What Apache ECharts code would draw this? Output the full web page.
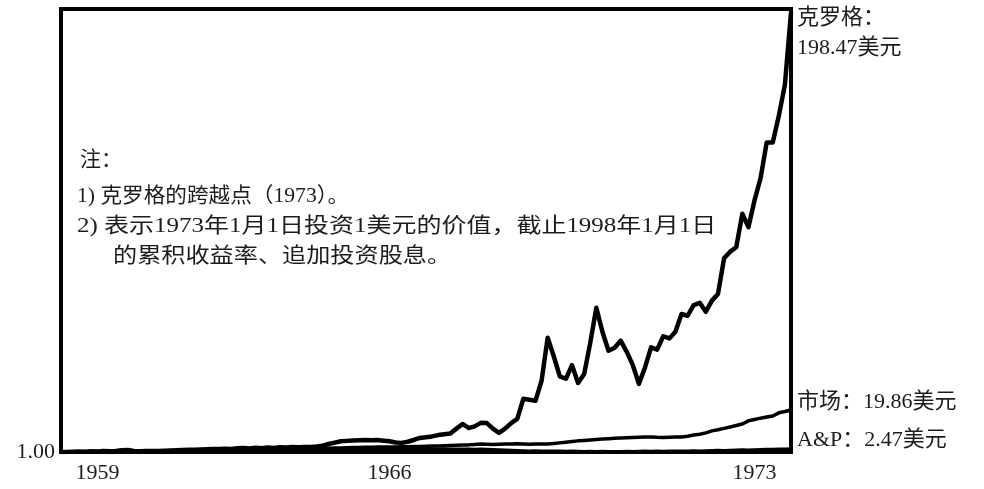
<!DOCTYPE html>
<html>
<head>
<meta charset="utf-8">
<script src="https://cdn.jsdelivr.net/npm/echarts@6/dist/echarts.min.js"></script>
<style>html,body{margin:0;padding:0;background:#fff}#c{width:984px;height:489px}</style>
</head>
<body>
<div id="c"></div>
<script>
// ---- data ----
const tickLabels = ['1959', '1966', '1973'];
const tickIndex = [6, 54, 114];

const kroger = [
  1.0, 1.0, 1.1, 1.2, 1.1, 1.3, 1.2, 1.4, 1.3, 1.5,
  1.8, 1.9, 1.5, 1.3, 1.4, 1.4, 1.5, 1.6, 1.7, 1.8,
  1.9, 2.0, 2.0, 2.1, 2.2, 2.3, 2.4, 2.5, 2.4, 2.7,
  2.8, 2.6, 2.9, 2.7, 3.0, 2.8, 3.1, 3.0, 3.2, 3.1,
  3.25, 3.3, 3.5, 3.8, 4.6, 5.2, 5.8, 6.0, 6.2, 6.3,
  6.4, 6.3, 6.4, 6.1, 5.8, 5.3, 5.1, 5.6, 6.4, 7.3,
  7.6, 8.0, 8.6, 9.0, 9.3, 11.5, 13.6, 11.8, 12.5, 14.1,
  14.0, 11.5, 9.6, 11.5, 14.0, 15.9, 24.9, 24.5, 24.0, 33.0,
  52.3, 44.0, 35.0, 33.9, 40.0, 32.0, 36.0, 50.0, 65.8, 55.0,
  46.5, 47.8, 51.0, 46.0, 40.0, 31.6, 39.0, 48.0, 47.0, 53.0,
  52.0, 55.0, 63.0, 62.2, 67.0, 68.0, 64.0, 69.0, 72.0, 88.0,
  91.0, 93.0, 108.0, 102.0, 114.0, 124.0, 140.0, 140.0, 152.0, 166.0,
  198.47
];

const market = [
  1.0, 1.0, 1.05, 1.1, 1.1, 1.15, 1.2, 1.2, 1.25, 1.3,
  1.3, 1.35, 1.35, 1.4, 1.4, 1.45, 1.5, 1.5, 1.55, 1.6,
  1.6, 1.65, 1.7, 1.7, 1.75, 1.8, 1.8, 1.9, 1.9, 2.0,
  2.0, 2.05, 2.1, 2.1, 2.2, 2.2, 2.3, 2.3, 2.4, 2.4,
  2.5, 2.5, 2.6, 2.6, 2.7, 2.8, 2.8, 2.9, 3.0, 3.0,
  3.1, 3.1, 3.2, 3.2, 3.3, 3.3, 3.4, 3.4, 3.5, 3.5,
  3.6, 3.7, 3.7, 3.8, 3.9, 4.0, 4.1, 4.2, 4.4, 4.6,
  4.5, 4.4, 4.5, 4.6, 4.6, 4.7, 4.6, 4.5, 4.6, 4.6,
  4.6, 4.8, 5.1, 5.4, 5.7, 6.0, 6.2, 6.4, 6.6, 6.8,
  7.0, 7.2, 7.3, 7.4, 7.5, 7.6, 7.7, 7.75, 7.6, 7.5,
  7.6, 7.7, 7.75, 8.1, 8.6, 9.0, 9.6, 10.5, 11.0, 11.6,
  12.2, 12.9, 13.6, 15.0, 15.6, 16.2, 16.7, 17.2, 18.6, 19.2,
  19.86
];

const ap = [
  1.0, 1.0, 1.05, 1.1, 1.0, 1.1, 1.2, 1.1, 1.2, 1.3,
  1.2, 1.3, 1.2, 1.3, 1.4, 1.3, 1.4, 1.5, 1.4, 1.5,
  1.6, 1.5, 1.6, 1.7, 1.6, 1.7, 1.8, 1.7, 1.8, 1.9,
  1.9, 2.0, 1.9, 2.0, 2.1, 2.0, 2.1, 2.2, 2.1, 2.2,
  2.2, 2.3, 2.2, 2.3, 2.4, 2.3, 2.4, 2.3, 2.4, 2.5,
  2.4, 2.5, 2.4, 2.5, 2.6, 2.5, 2.6, 2.5, 2.6, 2.5,
  2.6, 2.5, 2.4, 2.5, 2.4, 2.3, 2.4, 2.3, 2.2, 2.3,
  2.2, 2.1, 2.0, 1.9, 1.8, 1.7, 1.6, 1.5, 1.6, 1.5,
  1.4, 1.5, 1.4, 1.3, 1.4, 1.3, 1.2, 1.3, 1.2, 1.3,
  1.2, 1.1, 1.2, 1.3, 1.2, 1.3, 1.4, 1.3, 1.4, 1.3,
  1.4, 1.5, 1.4, 1.5, 1.6, 1.5, 1.6, 1.7, 1.8, 1.7,
  1.8, 1.9, 2.0, 1.9, 2.0, 2.1, 2.2, 2.2, 2.3, 2.4,
  2.47
];

const yMinLabel = '1.00';
const endLabels = {
  kroger: ['克罗格：', '198.47美元'],
  market: '市场：19.86美元',
  ap: 'A&P：2.47美元'
};
const notes = [
  '注：',
  '1) 克罗格的跨越点（1973）。',
  '2) 表示1973年1月1日投资1美元的价值，截止1998年1月1日',
  '的累积收益率、追加投资股息。'
];

// ---- chart ----
const categories = kroger.map((_, i) => {
  const k = tickIndex.indexOf(i);
  return k >= 0 ? tickLabels[k] : '';
});

const FONT = "'Liberation Serif', 'Noto Sans CJK SC', serif";
const TXT = '#1c1c1c';

const chart = echarts.init(document.getElementById('c'), null, {renderer: 'canvas'});

function txt(x, y, text, size, sx) {
  return {
    type: 'text', x: x, y: y, scaleX: sx || 1, silent: true,
    style: {
      text: text, fill: TXT, fontFamily: FONT, fontSize: size,
      verticalAlign: 'middle', align: 'left'
    }
  };
}

chart.setOption({
  backgroundColor: '#fff',
  animation: false,
  grid: {
    left: 61, right: 193, top: 9, bottom: 37,
    show: true, borderColor: '#000', borderWidth: 4, backgroundColor: 'transparent'
  },
  xAxis: {
    type: 'category',
    data: categories,
    boundaryGap: false,
    axisLine: {show: false},
    axisTick: {show: false},
    splitLine: {show: false},
    axisLabel: {
      interval: 0, margin: 10,
      color: TXT, fontFamily: FONT, fontSize: 22
    }
  },
  yAxis: {
    type: 'value',
    min: 1, max: 200,
    axisLine: {show: false},
    axisTick: {show: false},
    splitLine: {show: false},
    axisLabel: {
      showMinLabel: true, margin: 6,
      color: TXT, fontFamily: FONT, fontSize: 22,
      formatter: v => (v === 1 ? yMinLabel : '')
    }
  },
  series: [
    {name: 'A&P', type: 'line', data: ap, symbol: 'none', smooth: false,
     lineStyle: {color: '#000', width: 3}, z: 2},
    {name: '市场', type: 'line', data: market, symbol: 'none', smooth: false,
     lineStyle: {color: '#000', width: 3.5}, z: 3},
    {name: '克罗格', type: 'line', data: kroger, symbol: 'none', smooth: false,
     lineStyle: {color: '#000', width: 4.5, join: 'round'}, z: 4}
  ],
  graphic: [
    txt(797, 18, endLabels.kroger[0], 22),
    txt(797, 48, endLabels.kroger[1], 22),
    txt(797, 402, endLabels.market, 22),
    txt(797, 440, endLabels.ap, 22),
    txt(80, 160, notes[0], 21),
    txt(77, 196, notes[1], 21, 1.03),
    txt(77, 226, notes[2], 21, 1.19),
    txt(113, 256, notes[3], 21, 1.15)
  ]
});
</script>
</body>
</html>
